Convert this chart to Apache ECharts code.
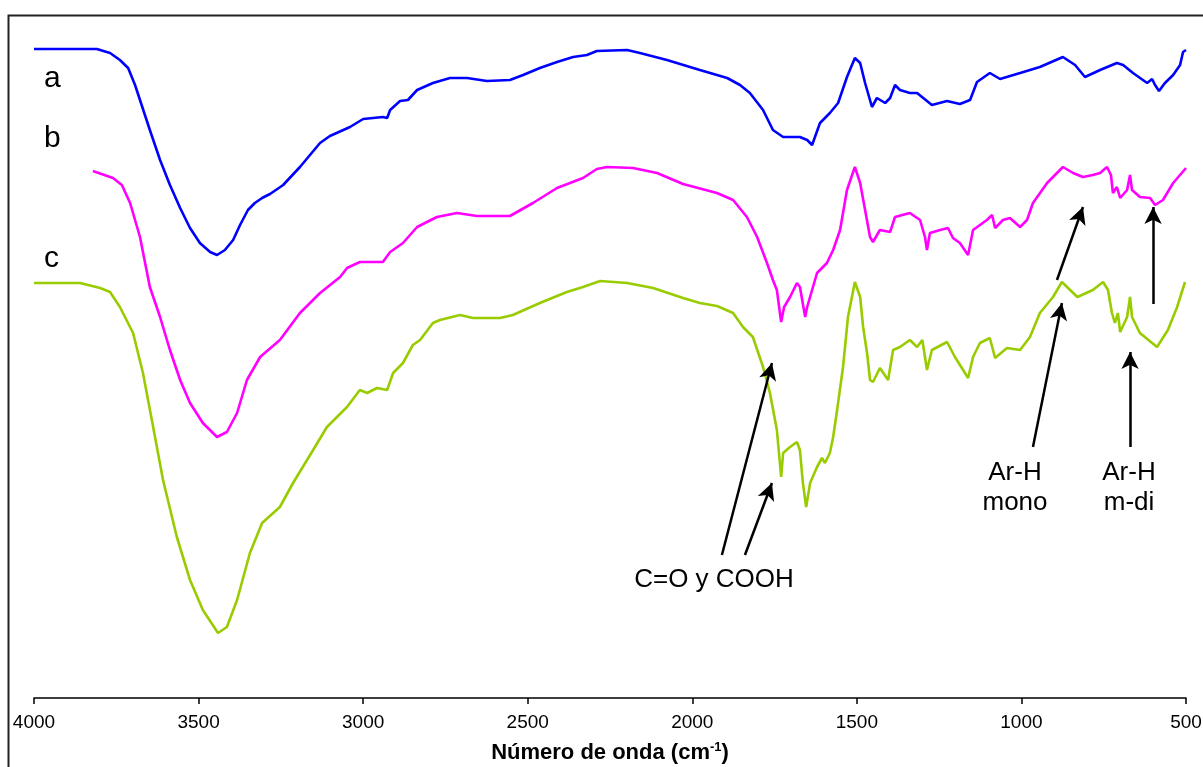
<!DOCTYPE html>
<html><head><meta charset="utf-8">
<script src="https://cdn.jsdelivr.net/npm/echarts@6/dist/echarts.min.js"></script>
<style>html,body{margin:0;padding:0;background:#fff}#c{width:1203px;height:767px}</style>
</head><body><div id="c"></div>
<script>
// Wavenumber (cm-1) and relative transmittance (arbitrary units, offset spectra)
const waveA = [4000,3809,3769,3739,3714,3693,3678,3663,3648,3617,3587,3556,3526,3496,3465,3444,3420,3395,3374,3350,3329,3307,3283,3243,3192,3131,3101,3040,3000,2940,2927,2918,2888,2864,2836,2788,2736,2684,2624,2554,2514,2463,2411,2362,2320,2290,2198,2159,2077,1977,1894,1855,1825,1785,1755,1724,1673,1651,1636,1612,1582,1557,1530,1506,1490,1475,1454,1439,1414,1399,1384,1369,1339,1317,1272,1226,1187,1156,1135,1096,1065,1004,944,874,837,807,761,710,691,661,618,603,594,582,564,539,518,509,500];
const transA = [649,649,645,638,630,613,598,583,568,538,513,490,470,455,446,443,448,458,473,488,495,500,504,513,531,555,562,571,579,581,580,588,597,598,608,615,620,620,617,618,623,630,636,641,643,647,648,645,638,628,620,613,605,588,568,561,561,558,553,575,585,595,621,640,635,615,591,600,595,600,613,608,605,605,593,597,594,598,616,625,619,625,631,641,633,621,628,635,633,625,615,619,613,607,615,623,633,646,648];

const waveB = [3821,3760,3733,3708,3678,3648,3617,3587,3556,3526,3487,3444,3414,3383,3353,3313,3253,3192,3131,3070,3049,3010,2940,2918,2879,2836,2776,2715,2654,2554,2484,2411,2332,2290,2259,2180,2107,2028,1925,1876,1834,1803,1773,1755,1743,1730,1721,1703,1682,1673,1657,1651,1621,1591,1572,1551,1530,1506,1490,1475,1460,1451,1430,1399,1384,1339,1308,1293,1287,1278,1247,1223,1208,1187,1162,1147,1105,1089,1080,1056,1035,1004,983,965,922,874,843,813,783,761,740,728,722,710,700,679,670,664,640,609,594,570,539,500];
const transB = [527,520,513,495,461,411,381,348,318,295,275,261,266,285,318,341,358,385,405,421,430,436,436,446,455,471,481,485,482,482,495,510,520,529,531,530,525,514,505,498,481,461,435,418,408,376,391,401,415,411,381,391,425,435,448,468,508,531,515,488,461,456,468,466,481,485,478,461,448,465,468,470,460,455,443,468,478,483,470,478,480,471,478,495,515,531,525,521,523,525,531,523,505,511,500,508,523,508,501,500,493,498,515,530];

const waveC = [4000,3860,3799,3769,3739,3699,3669,3638,3608,3566,3526,3487,3441,3414,3383,3344,3307,3253,3213,3152,3110,3049,3010,2988,2958,2927,2909,2879,2849,2827,2788,2767,2706,2666,2584,2545,2463,2381,2332,2280,2198,2119,2028,1977,1925,1876,1846,1816,1785,1764,1743,1730,1724,1703,1682,1673,1664,1654,1642,1621,1606,1597,1582,1572,1560,1542,1527,1506,1490,1481,1469,1460,1451,1430,1405,1390,1369,1339,1317,1301,1287,1272,1226,1202,1162,1147,1126,1096,1080,1044,1004,974,944,904,877,852,830,783,752,737,725,716,707,700,679,670,664,640,588,555,527,503];
const transC = [415,415,410,406,391,365,325,271,218,161,118,88,65,71,98,145,175,191,215,248,271,291,308,305,310,308,325,335,353,358,375,378,383,380,380,383,395,406,411,417,415,410,400,395,392,385,371,361,331,305,268,221,245,251,256,248,215,191,215,231,240,235,245,261,288,331,381,416,401,371,345,318,316,330,318,348,351,358,351,358,328,348,356,341,320,341,355,360,340,350,348,361,385,401,416,408,401,408,416,408,385,375,385,366,381,401,381,365,351,368,391,416];

const xTicks = [4000,3500,3000,2500,2000,1500,1000,500];
const curveLabels = ['a','b','c'];
const noteCO = 'C=O y COOH';
const noteMono = ['Ar-H','mono'];
const noteMdi = ['Ar-H','m-di'];
// annotation arrows: [from wavenumber, from value, to wavenumber, to value]
const arrows = [
  [1910,143,1758,335],
  [1840,143,1758,215],
  [965,251,877,395],
  [892,418,813,491],
  [670,251,670,346],
  [600,394,600,491]
];

const zip = (w,t) => w.map((x,i)=>[x,t[i]]);
const font = '"Liberation Sans", Arial, sans-serif';

const chart = echarts.init(document.getElementById('c'), null, {renderer:'canvas'});
const line = (name, data, color, extra) => Object.assign({
  name, type:'line', data, showSymbol:false, symbol:'none', smooth:false,
  lineStyle:{color, width:2.6}, itemStyle:{color}, silent:true, animation:false, z:3
}, extra||{});

chart.setOption({
  backgroundColor:'#fff',
  animation:false,
  grid:{left:34, right:17, top:15, bottom:69, containLabel:false, outerBoundsMode:'none'},
  xAxis:{
    type:'value', inverse:true, min:500, max:4000, interval:500,
    axisLine:{show:true, lineStyle:{color:'#000', width:1.5}},
    axisTick:{show:true, length:6, inside:false, lineStyle:{color:'#000', width:1.5}},
    axisLabel:{show:true, color:'#000', fontSize:19, fontFamily:font, margin:15,
      formatter:v=> xTicks.includes(v) ? String(v) : ''},
    splitLine:{show:false},
    name:'{a|Número de onda (cm}{s|-1}{a|)}',
    nameLocation:'middle', nameGap:43,
    nameTextStyle:{rich:{
      a:{fontSize:22, fontWeight:'bold', fontFamily:font, color:'#000', lineHeight:24},
      s:{fontSize:13, fontWeight:'bold', fontFamily:font, color:'#000', verticalAlign:'top', lineHeight:24, padding:[0,0,10,0]}
    }}
  },
  yAxis:{type:'value', min:0, max:683, show:false},
  series:[
    line('a', zip(waveA,transA), '#0000ff'),
    line('b', zip(waveB,transB), '#ff00ff'),
    line('c', zip(waveC,transC), '#99cc00', {
      markLine:{
        silent:true, animation:false,
        symbol:['none','arrow'], symbolSize:[13,17],
        lineStyle:{color:'#000', width:2.5, type:'solid'},
        label:{show:false}, emphasis:{disabled:true},
        data: arrows.map(a=>[{coord:[a[0],a[1]]},{coord:[a[2],a[3]]}])
      }
    })
  ],
  graphic:[
    {type:'rect', shape:{x:8.5,y:15.5,width:1300,height:800}, style:{fill:'none', stroke:'#222', lineWidth:2}, silent:true, z:0},
    {type:'text', left:44, top:64, style:{text:curveLabels[0], font:'30px '+font, fill:'#000'}},
    {type:'text', left:44, top:124, style:{text:curveLabels[1], font:'30px '+font, fill:'#000'}},
    {type:'text', left:44, top:244, style:{text:curveLabels[2], font:'30px '+font, fill:'#000'}},
    {type:'text', x:714, y:580, style:{text:noteCO, font:'26px '+font, fill:'#000', align:'center', verticalAlign:'middle'}},
    {type:'text', x:1015, y:488, style:{text:noteMono.join('\n'), font:'26px '+font, fill:'#000', align:'center', verticalAlign:'middle', lineHeight:30}},
    {type:'text', x:1129, y:488, style:{text:noteMdi.join('\n'), font:'26px '+font, fill:'#000', align:'center', verticalAlign:'middle', lineHeight:30}}
  ]
});
</script></body></html>
